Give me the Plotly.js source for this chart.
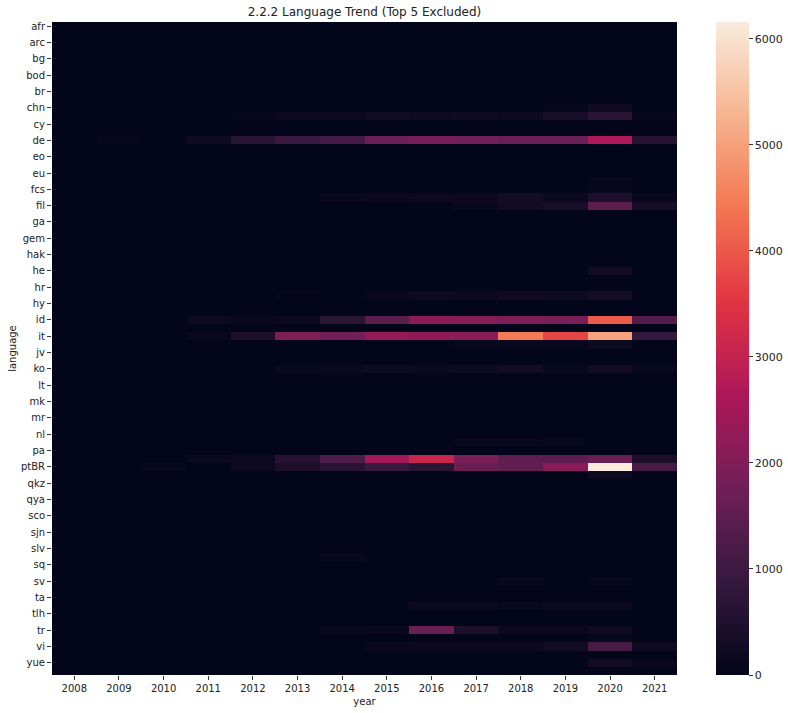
<!DOCTYPE html>
<html>
<head>
<meta charset="utf-8">
<script src="https://cdn.plot.ly/plotly-3.0.1.min.js"></script>
<style>html,body{margin:0;padding:0;background:#fff;}#chart{width:788px;height:713px;}</style>
</head>
<body>
<div id="chart"></div>
<script>
// Years (columns)
const years = ["2008","2009","2010","2011","2012","2013","2014","2015","2016","2017","2018","2019","2020","2021"];

// Languages (rows); only every other one is labelled on the axis
const languages = [
  "afr","am","arc","ast","bg","bn","bod","bpy","br","ca",
  "chn","cs","cy","da","de","el","eo","et","eu","fa",
  "fcs","fi","fil","fy","ga","gd","gem","gl","hak","haw",
  "he","hi","hr","hu","hy","ia","id","is","it","iu",
  "jv","ka","ko","la","lt","lv","mk","ml","mr","ms",
  "nl","no","pa","pl","ptBR","ptPT","qkz","qu","qya","ro",
  "sco","si","sjn","sk","slv","so","sq","sr","sv","sw",
  "ta","th","tlh","tok","tr","uk","vi","yi","yue","zhTW"
];

// Tick labels shown on the y axis
const tickLabels = ["afr","arc","bg","bod","br","chn","cy","de","eo","eu","fcs","fil","ga","gem","hak","he","hr","hy","id","it","jv","ko","lt","mk","mr","nl","pa","ptBR","qkz","qya","sco","sjn","slv","sq","sv","ta","tlh","tr","vi","yue"];

// Counts per language (row) per year (column), same order as `languages`
const counts = [
  [0,0,0,0,0,0,0,0,0,0,0,0,0,0],          // afr
  [0,0,0,0,0,0,0,0,0,0,0,0,0,0],          // am
  [0,0,0,0,0,0,0,0,0,0,0,0,0,0],          // arc
  [0,0,0,0,0,0,0,0,0,0,0,0,0,0],          // ast
  [0,0,0,0,0,0,0,0,0,0,0,0,0,0],          // bg
  [0,0,0,0,0,0,0,0,0,0,0,0,0,0],          // bn
  [0,0,0,0,0,0,0,0,0,0,0,0,0,0],          // bod
  [0,0,0,0,0,0,0,0,0,0,0,0,0,0],          // bpy
  [0,0,0,0,0,0,0,0,0,0,0,0,0,0],          // br
  [0,0,0,0,0,0,0,0,0,0,0,0,0,0],          // ca
  [0,0,0,0,0,0,0,0,0,0,0,70,230,0],       // chn
  [0,0,0,0,70,150,150,260,200,240,180,380,650,80], // cs
  [0,0,0,0,0,0,0,0,0,0,0,0,0,0],          // cy
  [0,0,0,0,0,0,0,0,0,0,0,0,0,0],          // da
  [0,60,0,200,650,950,1120,1650,1850,1780,1680,1650,2700,620], // de
  [0,0,0,0,0,0,0,0,0,0,0,0,0,0],          // el
  [0,0,0,0,0,0,0,0,0,0,0,0,0,0],          // eo
  [0,0,0,0,0,0,0,0,0,0,0,0,0,0],          // et
  [0,0,0,0,0,0,0,0,0,0,0,0,0,0],          // eu
  [0,0,0,0,0,0,0,0,0,0,0,0,70,0],         // fa
  [0,0,0,0,0,0,0,0,0,0,0,0,70,0],         // fcs
  [0,0,0,0,0,0,80,150,160,140,300,150,450,80], // fi
  [0,0,0,0,0,0,0,0,0,120,280,380,1450,330],    // fil
  [0,0,0,0,0,0,0,0,0,0,0,0,0,0],          // fy
  [0,0,0,0,0,0,0,0,0,0,0,0,0,0],          // ga
  [0,0,0,0,0,0,0,0,0,0,0,0,0,0],          // gd
  [0,0,0,0,0,0,0,0,0,0,0,0,0,0],          // gem
  [0,0,0,0,0,0,0,0,0,0,0,0,0,0],          // gl
  [0,0,0,0,0,0,0,0,0,0,0,0,0,0],          // hak
  [0,0,0,0,0,0,0,0,0,0,0,0,0,0],          // haw
  [0,0,0,0,0,0,0,0,0,0,0,0,300,0],        // he
  [0,0,0,0,0,0,0,0,0,0,0,0,0,0],          // hi
  [0,0,0,0,0,0,0,0,0,0,0,0,0,0],          // hr
  [0,0,0,0,0,60,0,90,170,140,230,200,320,0],   // hu
  [0,0,0,0,0,0,0,0,0,0,0,0,0,0],          // hy
  [0,0,0,0,0,0,0,0,0,0,0,0,0,0],          // ia
  [0,0,0,170,130,140,700,1450,2150,2050,1950,1900,4050,1300], // id
  [0,0,0,0,0,0,0,0,0,0,0,0,0,0],          // is
  [0,0,0,80,400,1950,1800,2300,2200,2100,4450,3750,5050,880], // it
  [0,0,0,0,0,0,0,0,0,70,100,100,170,0],   // iu
  [0,0,0,0,0,0,0,0,0,0,0,0,0,0],          // jv
  [0,0,0,0,0,0,0,0,0,0,0,0,0,0],          // ka
  [0,0,0,0,0,130,150,220,140,200,300,130,300,80], // ko
  [0,0,0,0,0,0,0,0,0,0,0,0,0,0],          // la
  [0,0,0,0,0,0,0,0,0,0,0,0,0,0],          // lt
  [0,0,0,0,0,0,0,0,0,0,0,0,0,0],          // lv
  [0,0,0,0,0,0,0,0,0,0,0,0,0,0],          // mk
  [0,0,0,0,0,0,0,0,0,0,0,0,0,0],          // ml
  [0,0,0,0,0,0,0,0,0,0,0,0,0,0],          // mr
  [0,0,0,0,0,0,0,0,0,0,0,0,0,0],          // ms
  [0,0,0,0,0,0,0,0,0,0,0,0,0,0],          // nl
  [0,0,0,0,0,0,0,0,0,110,110,60,0,0],     // no
  [0,0,0,0,0,0,0,0,0,0,0,0,0,0],          // pa
  [0,0,0,130,170,620,1250,2500,3120,1900,1520,1500,1650,450], // pl
  [0,0,70,0,190,450,680,950,700,1650,1550,2100,6160,1150],   // ptBR
  [0,0,0,0,0,0,0,0,0,0,0,0,170,0],        // ptPT
  [0,0,0,0,0,0,0,0,0,0,0,0,0,0],          // qkz
  [0,0,0,0,0,0,0,0,0,0,0,0,0,0],          // qu
  [0,0,0,0,0,0,0,0,0,0,0,0,0,0],          // qya
  [0,0,0,0,0,0,0,0,0,0,0,0,0,0],          // ro
  [0,0,0,0,0,0,0,0,0,0,0,0,0,0],          // sco
  [0,0,0,0,0,0,0,0,0,0,0,0,0,0],          // si
  [0,0,0,0,0,0,0,0,0,0,0,0,0,0],          // sjn
  [0,0,0,0,0,0,0,0,0,0,0,0,0,0],          // sk
  [0,0,0,0,0,0,0,0,0,0,0,0,0,0],          // slv
  [0,0,0,0,0,0,100,0,0,0,0,0,0,0],        // so
  [0,0,0,0,0,0,0,0,0,0,0,0,0,0],          // sq
  [0,0,0,0,0,0,0,0,0,0,0,0,0,0],          // sr
  [0,0,0,0,0,0,0,0,0,0,70,0,70,0],        // sv
  [0,0,0,0,0,0,0,0,0,0,0,0,0,0],          // sw
  [0,0,0,0,0,0,0,0,0,0,0,0,0,0],          // ta
  [0,0,0,0,0,0,0,0,140,140,100,190,160,0],// th
  [0,0,0,0,0,0,0,0,0,0,0,0,0,0],          // tlh
  [0,0,0,0,0,0,0,0,0,0,0,0,0,0],          // tok
  [0,0,0,0,0,0,60,90,1650,450,140,140,240,0], // tr
  [0,0,0,0,0,0,0,0,0,0,0,0,70,0],         // uk
  [0,0,0,0,0,0,0,80,150,150,150,260,1150,220], // vi
  [0,0,0,0,0,0,0,0,0,0,0,0,0,0],          // yi
  [0,0,0,0,0,0,0,0,0,0,0,0,300,80],       // yue
  [0,0,0,0,0,0,0,0,0,0,0,0,0,0]           // zhTW
];

const colorTicks = [0,1000,2000,3000,4000,5000,6000];

const rocket = [
  [0.0, "#03051a"], [0.143, "#35193e"], [0.286, "#701f57"], [0.429, "#ad1759"],
  [0.571, "#e13342"], [0.714, "#f37651"], [0.857, "#f6b48f"], [1.0, "#faebdd"]
];

const font = "DejaVu Sans, sans-serif";

const trace = {
  type: "heatmap",
  x: years,
  y: languages,
  z: counts,
  colorscale: rocket,
  zmin: 0,
  zmax: 6160,
  xgap: 0, ygap: 0,
  hoverongaps: false,
  colorbar: {
    x: 1.0624, xanchor: "left", xpad: 0,
    y: 0.5, yanchor: "middle", ypad: 0,
    len: 1, lenmode: "fraction",
    thickness: 33, thicknessmode: "pixels",
    outlinewidth: 0,
    tickvals: colorTicks,
    ticks: "outside", ticklen: 4, tickwidth: 1, tickcolor: "#333",
    tickfont: {family: font, size: 11, color: "#222"}
  }
};

const layout = {
  width: 788, height: 713,
  margin: {l: 52, r: 111, t: 22, b: 38, autoexpand: false},
  paper_bgcolor: "#fff", plot_bgcolor: "#fff",
  title: {text: "2.2.2 Language Trend (Top 5 Excluded)", font: {family: font, size: 12, color: "#222"}, x: 0.5, xref: "paper", y: 0.983, yanchor: "middle"},
  xaxis: {
    type: "category", tickvals: years, ticktext: years,
    ticks: "outside", ticklen: 4, tickcolor: "#333",
    showgrid: false, zeroline: false, showline: false,
    automargin: false,
    tickfont: {family: font, size: 10, color: "#222"},
    title: {text: "year", font: {family: font, size: 10, color: "#222"}, standoff: 4}
  },
  yaxis: {
    type: "category", autorange: "reversed",
    tickvals: tickLabels, ticktext: tickLabels,
    ticks: "outside", ticklen: 4, tickcolor: "#333",
    showgrid: false, zeroline: false, showline: false,
    automargin: false,
    tickfont: {family: font, size: 10, color: "#222"},
    title: {text: "language", font: {family: font, size: 10, color: "#222"}, standoff: 2}
  }
};

Plotly.newPlot("chart", [trace], layout, {displayModeBar: false, staticPlot: true});
</script>
</body>
</html>
